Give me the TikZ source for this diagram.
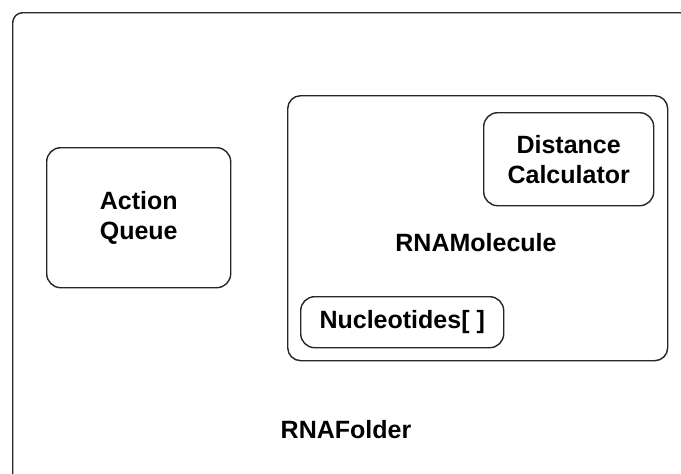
\documentclass[tikz,border=0pt]{standalone}
\usepackage{fontspec}
\setmainfont{Liberation Sans}
\begin{document}
\begin{tikzpicture}[x=1pt,y=-1pt,
  box/.style={draw=black!85, line width=1.4pt, rounded corners=14pt, inner sep=0pt, align=center,
    font=\fontsize{25}{30}\selectfont\bfseries},
  lbl/.style={inner sep=0pt, anchor=base, font=\fontsize{25}{30}\selectfont\bfseries}]
\useasboundingbox (0,0) rectangle (681,474);
\clip (0,0) rectangle (681,474);
\fill[white] (0,0) rectangle (681,474);
\node[box, rounded corners=10pt, minimum width=690pt, minimum height=480pt, anchor=north west] (folder) at (12,12) {};
\node[box, rounded corners=13pt, minimum width=380pt, minimum height=265pt, anchor=north west] (molecule) at (287,95) {};
\node[box, minimum width=170pt, minimum height=93pt, anchor=north west] (dist) at (483,112) {Distance\\Calculator};
\node[box, minimum width=203pt, minimum height=51pt, anchor=north west] (nuc) at (300,296) {Nucleotides[ ]};
\node[box, minimum width=184pt, minimum height=140pt, anchor=north west] (queue) at (46,147) {Action\\Queue};
\node[lbl] (molname) at (476,251) {RNAMolecule};
\node[lbl] (foldername) at (346,438) {RNAFolder};
\end{tikzpicture}
\end{document}
